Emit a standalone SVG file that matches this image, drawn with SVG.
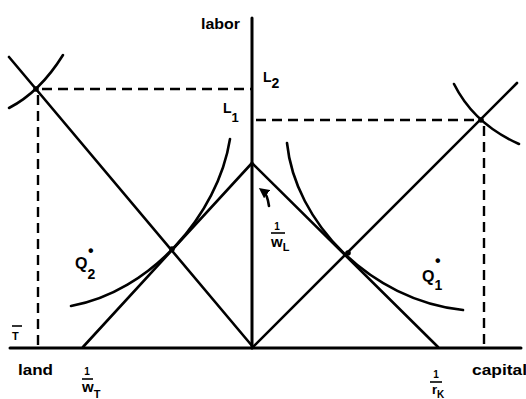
<svg xmlns="http://www.w3.org/2000/svg" width="526" height="399" viewBox="0 0 526 399">
<defs>
<style>
.ax{stroke:#000;stroke-width:3;fill:none;stroke-linecap:round}
.ln{stroke:#000;stroke-width:2.6;fill:none;stroke-linecap:round}
.cv{stroke:#000;stroke-width:2.6;fill:none;stroke-linecap:round}
.ds{stroke:#000;stroke-width:2.4;fill:none;stroke-dasharray:10,6}
.bar{stroke:#000;stroke-width:1.6}
text{font-family:"Liberation Sans",Arial,sans-serif;font-weight:bold;fill:#000}
.pt{fill:#000}
</style>
<marker id="ah" viewBox="0 0 10 10" refX="5" refY="5" markerWidth="4" markerHeight="4" orient="auto">
<path d="M0,0 L10,5 L0,10 z" fill="#000"/>
</marker>
</defs>
<rect width="526" height="399" fill="#fff"/>
<g id="axes">
<line class="ax" x1="252" y1="18" x2="252" y2="348"/>
<line class="ax" x1="10" y1="348" x2="521" y2="348"/>
</g>
<g id="connectors">
<line class="ln" x1="9" y1="57" x2="253" y2="347"/>
<line class="ln" x1="83" y1="347" x2="252" y2="163"/>
<line class="ln" x1="252" y1="163" x2="438" y2="347"/>
<line class="ln" x1="252" y1="348" x2="517" y2="83"/>
<line class="ds" x1="42" y1="89" x2="252" y2="89"/>
<line class="ds" x1="38" y1="95" x2="38" y2="348"/>
<line class="ds" x1="256" y1="120" x2="478" y2="120"/>
<line class="ds" x1="484" y1="126" x2="484" y2="348"/>
<path class="ln" d="M269,206 C268,199 267,194 263,191" stroke-width="2.2" marker-end="url(#ah)"/>
</g>
<g id="curves">
<path class="cv" d="M9,108 Q40,92 63,55"/>
<path class="cv" d="M454,84 Q474,124 519,144"/>
<path id="Q2-curve" class="cv" d="M230,139 C218,215 150,292 71,306"/>
<path id="Q1-curve" class="cv" d="M287,143 C295,222 370,300 463,310"/>
</g>
<g id="points">
<circle class="pt" cx="36" cy="89" r="2.8"/>
<circle class="pt" cx="481" cy="120" r="2.8"/>
<circle class="pt" cx="172" cy="249" r="2.8"/>
<circle class="pt" cx="348" cy="253" r="2.8"/>
</g>
<g id="labels">
<text x="201" y="29" font-size="14" textLength="39" lengthAdjust="spacingAndGlyphs">labor</text>
<text x="263" y="82" font-size="14">L<tspan dy="6" font-size="14">2</tspan></text>
<text x="223" y="113" font-size="14">L<tspan dy="9" font-size="13">1</tspan></text>
<text x="75" y="269" font-size="16">Q<tspan dy="10" font-size="14">2</tspan></text>
<text x="88" y="256" font-size="16">•</text>
<text x="422" y="282" font-size="16">Q<tspan dy="8" font-size="14">1</tspan></text>
<text x="435" y="266" font-size="16">•</text>
<text x="277" y="230" font-size="10" text-anchor="middle">1</text>
<line class="bar" x1="271" y1="233" x2="285" y2="233"/>
<text x="271" y="247" font-size="15">w<tspan font-size="11" dy="4">L</tspan></text>
<text x="87" y="375" font-size="10" text-anchor="middle">1</text>
<line class="bar" x1="82" y1="379" x2="93" y2="379"/>
<text x="82" y="392" font-size="15">w<tspan font-size="11" dy="6">T</tspan></text>
<text x="436" y="378" font-size="10" text-anchor="middle">1</text>
<line class="bar" x1="430" y1="382" x2="442" y2="382"/>
<text x="432" y="394" font-size="13">r<tspan font-size="10" dy="4">K</tspan></text>
<text x="12" y="340" font-size="11">T</text>
<line class="bar" x1="12" y1="326" x2="22" y2="326"/>
<text x="18" y="375" font-size="14" textLength="35" lengthAdjust="spacingAndGlyphs">land</text>
<text x="472" y="375" font-size="14" textLength="55" lengthAdjust="spacingAndGlyphs">capital</text>
</g>
</svg>
